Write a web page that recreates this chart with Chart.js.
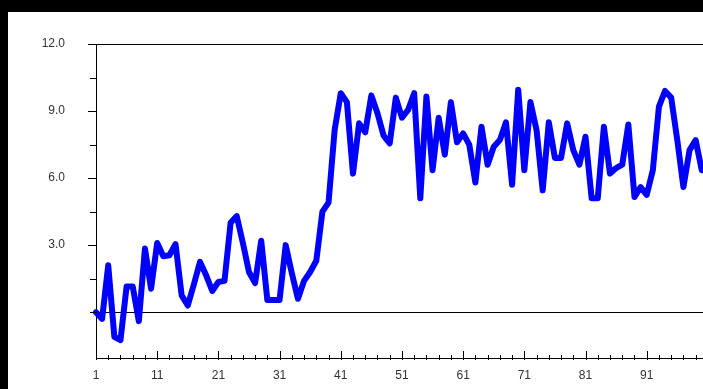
<!DOCTYPE html>
<html>
<head>
<meta charset="utf-8">
<script src="https://cdn.jsdelivr.net/npm/chart.js@4.4.1/dist/chart.umd.min.js"></script>
<style>
  html, body { margin: 0; padding: 0; background: #000; width: 703px; height: 389px; overflow: hidden; }
  #box { position: absolute; left: 8px; top: 12px; width: 695px; height: 377px; background: #fff; }
</style>
</head>
<body>
<div id="box"><canvas id="grafica" width="695" height="377"></canvas></div>
<script>
// datos
const dias = [];
for (let i = 1; i <= 100; i++) dias.push(i);

const valores = [
  0.0, -0.3, 2.1, -1.1, -1.25, 1.15, 1.15, -0.4, 2.85, 1.05,
  3.1, 2.5, 2.55, 3.05, 0.75, 0.3, 1.25, 2.25, 1.65, 0.95,
  1.35, 1.4, 4.0, 4.3, 3.1, 1.8, 1.3, 3.2, 0.55, 0.55,
  0.55, 3.0, 1.75, 0.6, 1.4, 1.8, 2.3, 4.5, 4.9, 8.15,
  9.8, 9.4, 6.2, 8.45, 8.05, 9.7, 8.9, 7.9, 7.55, 9.6,
  8.7, 9.05, 9.8, 5.1, 9.65, 6.35, 8.7, 7.05, 9.4, 7.6,
  8.0, 7.5, 5.8, 8.3, 6.6, 7.4, 7.7, 8.5, 5.7, 9.95,
  6.35, 9.4, 8.15, 5.45, 8.5, 6.9, 6.9, 8.45, 7.25, 6.6,
  7.85, 5.1, 5.1, 8.3, 6.2, 6.45, 6.6, 8.4, 5.15, 5.6,
  5.25, 6.35, 9.2, 9.9, 9.6, 7.7, 5.6, 7.25, 7.7, 6.35
];

// ticks
const yTicks = [0, 1.5, 3, 4.5, 6, 7.5, 9, 10.5, 12];
const yEtiquetas = [3, 6, 9, 12];
const xEtiquetas = [1, 11, 21, 31, 41, 51, 61, 71, 81, 91];
const xMenores = [];
for (let v = 1; v <= 99; v += 2) xMenores.push(v);

// marcas de ticks que cruzan el eje
const marcas = {
  id: 'marcas',
  afterDraw(chart) {
    const ctx = chart.ctx;
    const xs = chart.scales.x, ys = chart.scales.y;
    const a = chart.chartArea;
    ctx.save();
    ctx.strokeStyle = '#000';
    ctx.lineWidth = 1;
    ctx.beginPath();
    yTicks.forEach(v => {
      const py = Math.round(ys.getPixelForValue(v)) + 0.5;
      const largo = yEtiquetas.includes(v) ? 8 : 6;
      ctx.moveTo(a.left - largo, py);
      ctx.lineTo(a.left + 1, py);
    });
    xMenores.forEach(v => {
      const px = Math.round(xs.getPixelForValue(v)) + 0.5;
      const mayor = xEtiquetas.includes(v);
      ctx.moveTo(px, a.bottom - (mayor ? 7 : 3));
      ctx.lineTo(px, a.bottom + 2);
    });
    ctx.stroke();
    ctx.restore();
  }
};

const fuente = { family: "'Liberation Sans', Arial, sans-serif", size: 12 };

new Chart(document.getElementById('grafica').getContext('2d'), {
  type: 'line',
  data: {
    datasets: [{
      data: valores.map((v, i) => ({ x: dias[i], y: v })),
      borderColor: '#0000ff',
      borderWidth: 6,
      borderJoinStyle: 'round',
      borderCapStyle: 'round',
      pointRadius: 0,
      tension: 0,
      fill: false,
      clip: false
    }]
  },
  options: {
    responsive: false,
    devicePixelRatio: 1,
    animation: false,
    layout: { autoPadding: false, padding: { top: 32, left: 0, right: 0, bottom: 0 } },
    plugins: { legend: { display: false }, tooltip: { enabled: false } },
    scales: {
      x: {
        type: 'linear',
        min: 1,
        max: 100.2,
        afterFit: s => { s.height = 31; s.paddingLeft = 0; s.paddingRight = 0; },
        afterBuildTicks: s => { s.ticks = xEtiquetas.map(v => ({ value: v })); },
        grid: { display: false, drawTicks: false },
        border: { display: true, color: '#000', width: 1 },
        ticks: { color: '#333', font: fuente, padding: 10, maxRotation: 0, autoSkip: false }
      },
      y: {
        min: -2.05,
        max: 12,
        afterFit: s => { s.width = 88; s.paddingTop = 0; s.paddingBottom = 0; },
        afterBuildTicks: s => { s.ticks = yTicks.map(v => ({ value: v })); },
        grid: {
          drawTicks: false,
          color: c => (c.tick && (c.tick.value === 0 || c.tick.value === 12)) ? '#000' : 'rgba(0,0,0,0)',
          lineWidth: 1
        },
        border: { display: true, color: '#000', width: 1 },
        ticks: {
          color: '#333',
          font: fuente,
          padding: 31,
          autoSkip: false,
          callback: v => yEtiquetas.includes(v) ? v.toFixed(1) : ''
        }
      }
    }
  },
  plugins: [marcas]
});
</script>
</body>
</html>
